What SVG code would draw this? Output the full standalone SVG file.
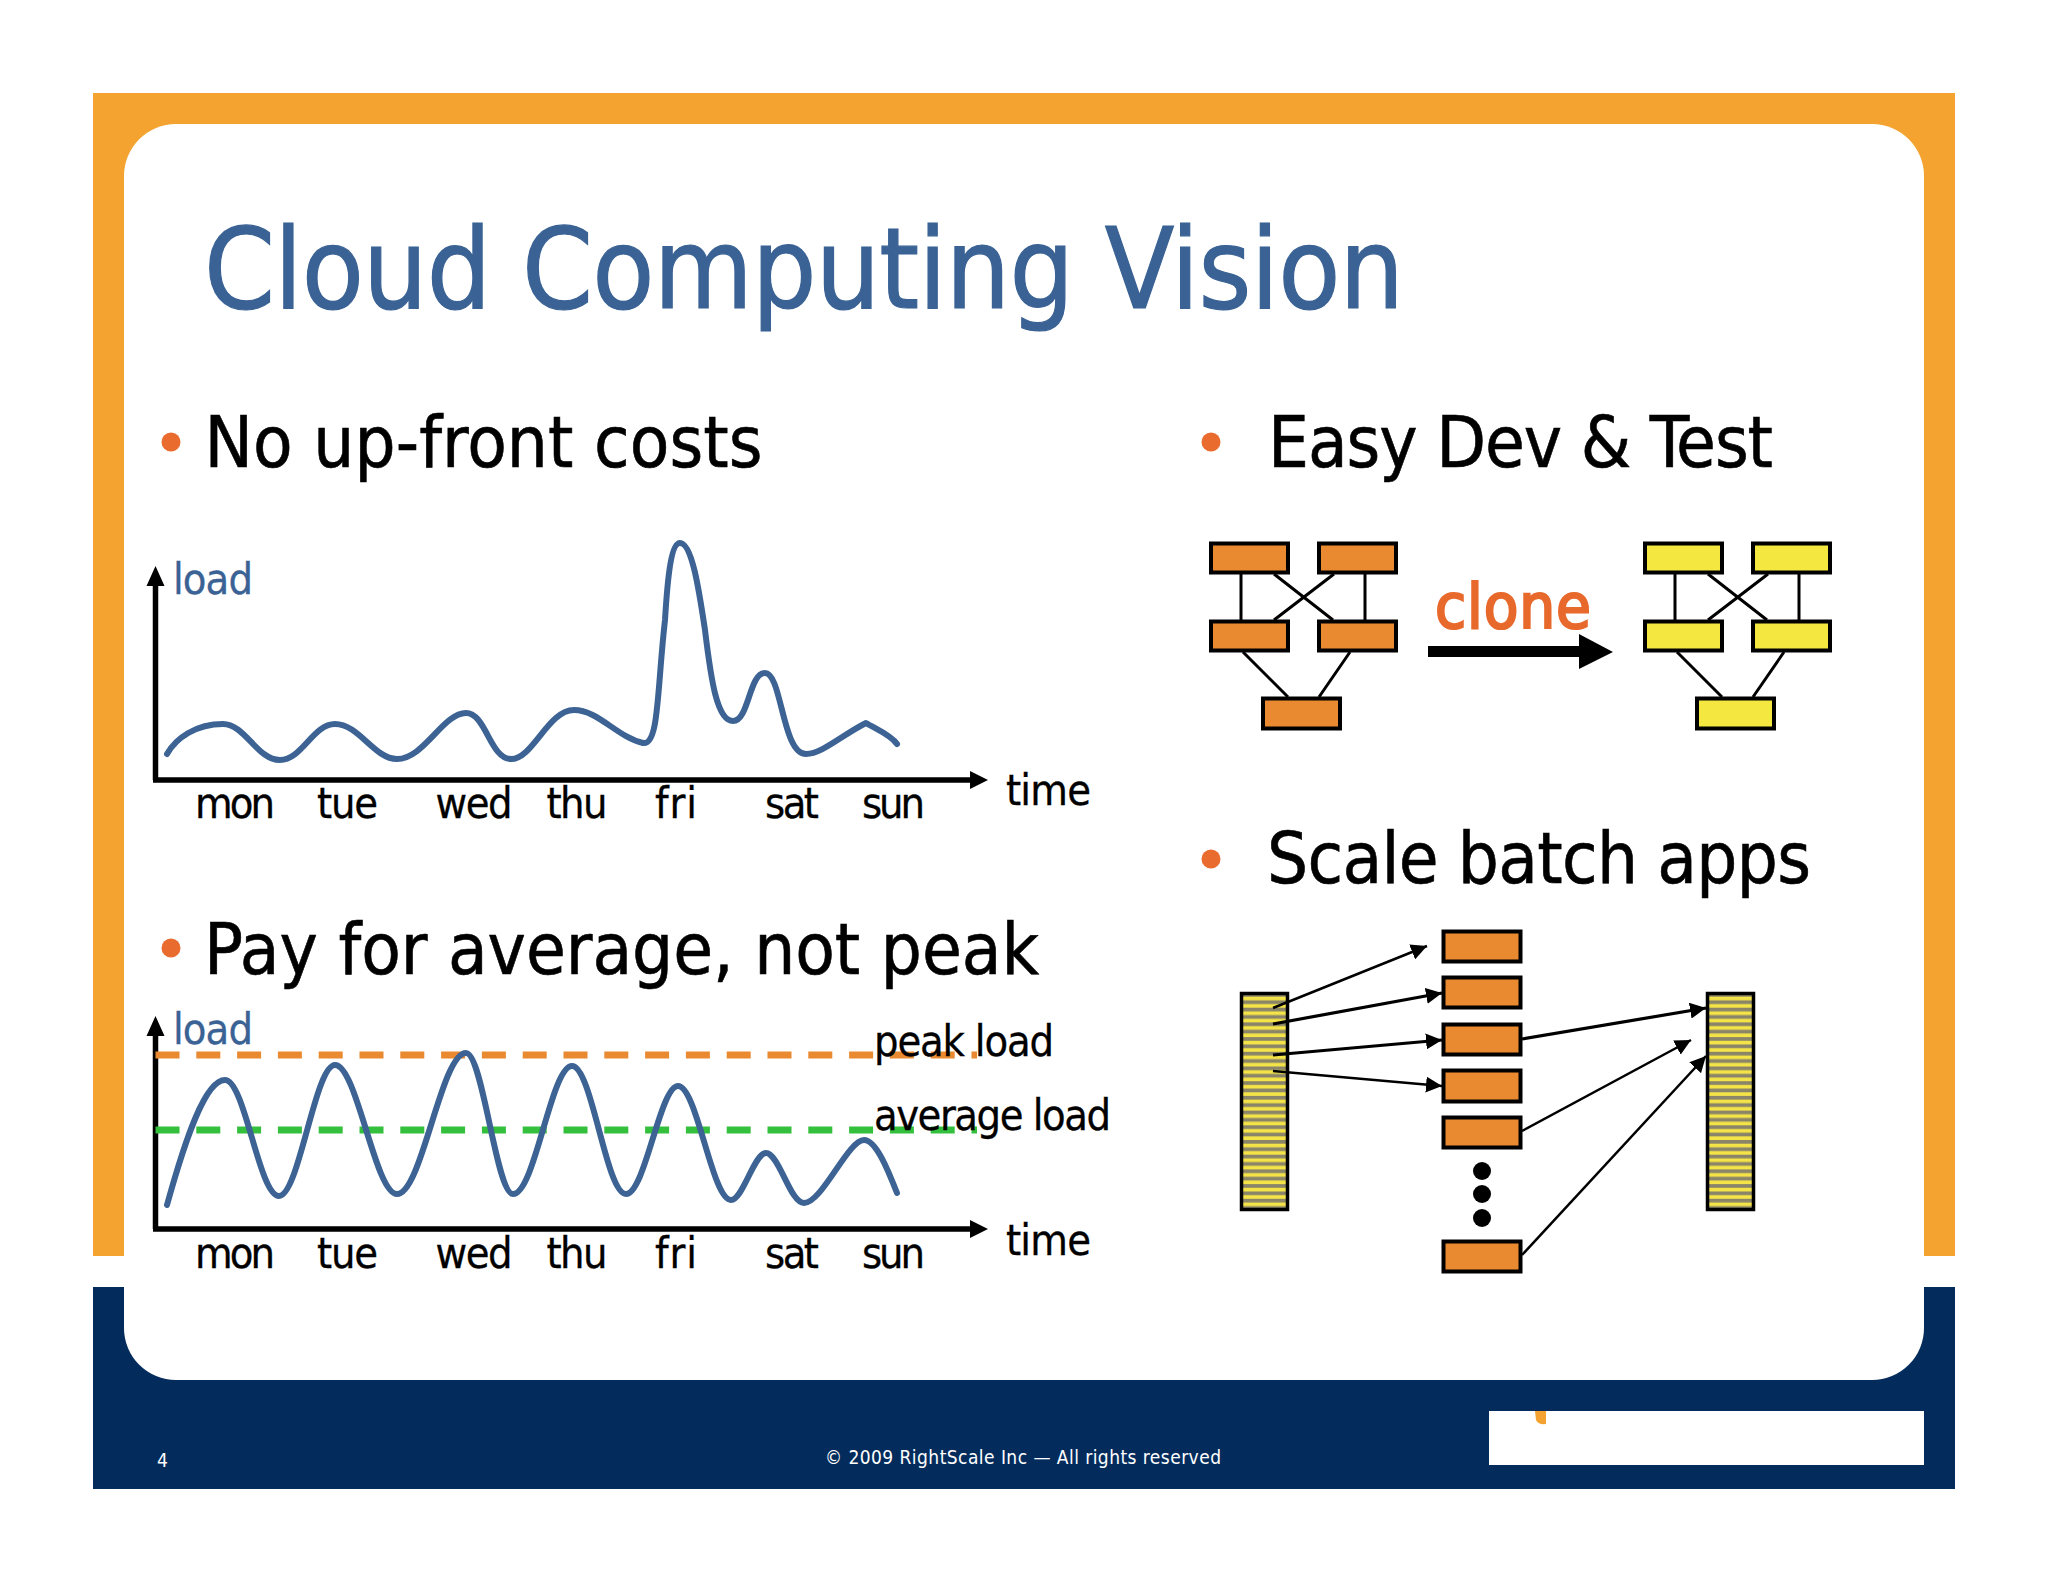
<svg xmlns="http://www.w3.org/2000/svg" width="2048" height="1582" viewBox="0 0 2048 1582">
<style>
text{font-family:"DejaVu Sans Condensed","DejaVu Sans",sans-serif;fill:#000}
.title{font-size:113px;fill:#3A6294;stroke:#3A6294;stroke-width:1.2}
.head{font-size:72px;stroke:#000;stroke-width:.6}
.lab{font-size:43px;stroke:#000;stroke-width:.3}
.blue{fill:#3A6294;stroke:#3A6294}
.foot{font-size:19px;fill:#fff}
.clone{font-size:63px;fill:#E8692C;stroke:#E8692C;stroke-width:2.2}
.bullet{fill:#E96B2D}
.curve{fill:none;stroke:#3C6394;stroke-width:6;stroke-linecap:round;stroke-linejoin:round}
.axis{fill:none;stroke:#000;stroke-width:5.5}
.head-a{fill:#000}
.o{fill:#EA8A30;stroke:#000;stroke-width:4}
.y{fill:#F4E840;stroke:#000;stroke-width:4}
.l{fill:none;stroke:#000;stroke-width:3}
.a{fill:none;stroke:#000;stroke-width:2.5;marker-end:url(#ah)}
.b{stroke-width:3.2}
.dash{fill:none;stroke-width:7;stroke-dasharray:24 16.8}
</style>
<defs>
<marker id="ah" markerUnits="userSpaceOnUse" markerWidth="18" markerHeight="16" refX="16" refY="8" orient="auto"><path d="M0 0L16 8L0 16Z" fill="#000"/></marker>
<pattern id="st" patternUnits="userSpaceOnUse" x="0" y="993" width="10" height="14.7"><rect width="10" height="14.7" fill="#F4E447"/><rect y="0" width="10" height="3.7" fill="#8A8468"/><rect y="7.35" width="10" height="3.7" fill="#8A8468"/></pattern>
</defs>
<rect width="2048" height="1582" fill="#fff"/>
<g id="frame">
<rect x="93" y="93" width="1862" height="1163" fill="#F4A330"/>
<rect x="93" y="1287" width="1862" height="202" fill="#032C5D"/>
<rect x="124" y="124" width="1800" height="1256" rx="52" fill="#fff"/>
<rect x="1489" y="1411" width="435" height="54" fill="#fff"/>
<path d="M1535 1411h11v13q-8 1-10-4z" fill="#F4A330"/>
<text class="foot" x="157" y="1467">4</text>
<text class="foot" x="825" y="1464" textLength="396">© 2009 RightScale Inc — All rights reserved</text>
</g>
<g id="title"><text class="title" x="204" y="308" textLength="1200">Cloud Computing Vision</text></g>
<g id="bullet-costs"><circle class="bullet" cx="171" cy="442" r="9.5"/><text class="head" x="204.5" y="466.5" textLength="558">No up-front costs</text></g>
<g id="bullet-pay"><circle class="bullet" cx="171" cy="948" r="9.5"/><text class="head" x="204" y="973.5" textLength="835">Pay for average, not peak</text></g>
<g id="bullet-easy"><circle class="bullet" cx="1211" cy="442" r="9.5"/><text class="head" x="1268" y="466.5" textLength="505">Easy Dev &amp; Test</text></g>
<g id="bullet-scale"><circle class="bullet" cx="1211" cy="859" r="9.5"/><text class="head" x="1267" y="882.5" textLength="544">Scale batch apps</text></g>

<g id="chart-top">
<path class="axis" d="M155.5 780V582M153 780H973"/>
<path class="head-a" d="M155.5 566l-9 20h18zM988 780l-18-9v18z"/>
<path class="curve" d="M167 754C176 738 196 724 223 724C245 724 257 760 280 760C302 760 313 724 335 724C359 724 374 759 397 759C424 759 443 713 466 713C486 713 490 759 511 759C533 759 548 710 574 710C598 710 617 737 643 743C659 746 657 690 665 620C668 570 672 543 680 543C692 543 699 590 705 630C711 680 717 721 733 721C749 721 749 673 765 673C782 673 782 754 806 754C822 754 842 735 866 723C876 729 891 735 897 744"/>
<text class="lab blue" x="173" y="593.5" textLength="80">load</text>
<text class="lab" x="195" y="817.5" textLength="80">mon</text>
<text class="lab" x="317" y="817.5" textLength="61">tue</text>
<text class="lab" x="435.500" y="817.5" textLength="77">wed</text>
<text class="lab" x="546.500" y="817.5" textLength="61">thu</text>
<text class="lab" x="655" y="817.5" textLength="42">fri</text>
<text class="lab" x="765" y="817.5" textLength="54">sat</text>
<text class="lab" x="862" y="817.5" textLength="63">sun</text>
<text class="lab" x="1006" y="804.5" textLength="85">time</text>
</g>

<g id="chart-bottom">
<path class="axis" d="M155.5 1229V1032M153 1229H973"/>
<path class="head-a" d="M155.5 1016l-9 20h18zM988 1229l-18-9v18z"/>
<path class="dash" stroke="#EA8A30" d="M155.500 1055H977"/>
<path class="dash" stroke="#34C03C" d="M155.500 1130H977"/>
<path class="curve" d="M167 1205C185 1140 205 1080 225 1080C245 1080 259 1196 279 1196C299 1196 315 1065 335 1065C357 1065 375 1194 397 1194C422 1194 441 1053 466 1053C483 1053 496 1194 513 1194C535 1194 551 1066 572 1066C592 1066 606 1194 626 1194C645 1194 660 1086 678 1086C697 1086 712 1200 731 1200C743 1200 754 1153 766 1153C779 1153 790 1203 804 1203C822 1203 848 1140 864 1140C876 1140 888 1170 897 1193"/>
<text class="lab blue" x="173" y="1043.500" textLength="80">load</text>
<text class="lab" x="874" y="1056" textLength="180">peak load</text>
<text class="lab" x="874" y="1130" textLength="237">average load</text>
<text class="lab" x="195" y="1267.500" textLength="80">mon</text>
<text class="lab" x="317" y="1267.500" textLength="61">tue</text>
<text class="lab" x="435.500" y="1267.500" textLength="77">wed</text>
<text class="lab" x="546.500" y="1267.500" textLength="61">thu</text>
<text class="lab" x="655" y="1267.500" textLength="42">fri</text>
<text class="lab" x="765" y="1267.500" textLength="54">sat</text>
<text class="lab" x="862" y="1267.500" textLength="63">sun</text>
<text class="lab" x="1006" y="1254.500" textLength="85">time</text>
</g>

<g id="clone-source">
<rect class="o" x="1211" y="543.5" width="77" height="29"/>
<rect class="o" x="1319" y="543.5" width="77" height="29"/>
<rect class="o" x="1211" y="621.5" width="77" height="29"/>
<rect class="o" x="1319" y="621.5" width="77" height="29"/>
<rect class="o" x="1263" y="698.5" width="77" height="30"/>
</g>
<g id="clone-label"><text class="clone" x="1435" y="628" textLength="156">clone</text></g>
<g id="clone-target">
<rect class="y" x="1645" y="543.5" width="77" height="29"/>
<rect class="y" x="1753" y="543.5" width="77" height="29"/>
<rect class="y" x="1645" y="621.5" width="77" height="29"/>
<rect class="y" x="1753" y="621.5" width="77" height="29"/>
<rect class="y" x="1697" y="698.5" width="77" height="30"/>
</g>

<g id="batch-input"><rect x="1241.5" y="993.5" width="46" height="216" fill="url(#st)" stroke="#000" stroke-width="3.5"/></g>
<g id="batch-output"><rect x="1707.5" y="993.5" width="46" height="216" fill="url(#st)" stroke="#000" stroke-width="3.5"/></g>
<g id="batch-workers">
<rect class="o" x="1443.5" y="931.5" width="77" height="30"/>
<rect class="o" x="1443.5" y="977.5" width="77" height="30"/>
<rect class="o" x="1443.5" y="1024.5" width="77" height="30"/>
<rect class="o" x="1443.5" y="1070.5" width="77" height="31"/>
<rect class="o" x="1443.5" y="1117.5" width="77" height="30"/>
<rect class="o" x="1443.5" y="1241.5" width="77" height="30"/>
<circle cx="1482" cy="1171" r="9"/><circle cx="1482" cy="1194" r="9"/><circle cx="1482" cy="1218" r="9"/>
</g>

<g id="connectors">
<path class="l" d="M1241 574V620M1365 574V620M1274 574L1333 620M1334 574L1274 620M1243 652L1288 697M1350 652L1319 697"/>
<path class="l" d="M1675 574V620M1799 574V620M1708 574L1767 620M1768 574L1708 620M1677 652L1722 697M1784 652L1753 697"/>
<path d="M1428 646H1579V634L1613 652L1579 669V657H1428Z" fill="#000"/>
<path class="a" d="M1273 1008L1427 946"/>
<path class="a b" d="M1273 1024L1442 993"/>
<path class="a b" d="M1273 1055L1442 1040"/>
<path class="a" d="M1273 1071L1442 1086"/>
<path class="a b" d="M1522 1039L1706 1008"/>
<path class="a" d="M1522 1131L1691 1040"/>
<path class="a" d="M1522 1255L1706 1056"/>
</g>
</svg>
